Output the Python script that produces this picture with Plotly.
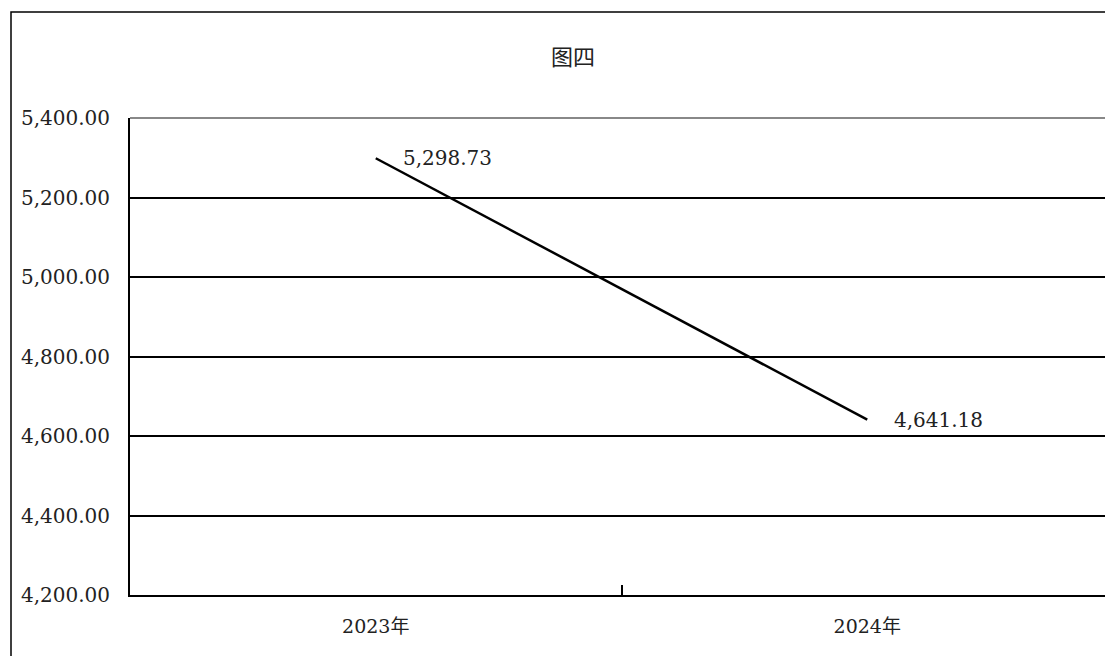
import plotly.graph_objects as go

categories = ["2023年", "2024年"]
values = [5298.73, 4641.18]
value_labels = ["5,298.73", "4,641.18"]
title_text = "图四"
y_ticks = [4200, 4400, 4600, 4800, 5000, 5200, 5400]

FONT = "DejaVu Serif, Noto Sans CJK SC, serif"

fig = go.Figure()
fig.add_trace(go.Scatter(
    x=categories, y=values, mode="lines",
    line=dict(color="black", width=2.5),
    hoverinfo="skip", showlegend=False,
))

for c, v, t in zip(categories, values, value_labels):
    fig.add_annotation(x=c, y=v, text=t, showarrow=False,
                       xanchor="left", yanchor="middle", xshift=25,
                       font=dict(family=FONT, size=20, color="#222"))

PW = 975.0
fig.add_annotation(x=(573 - 130) / PW, y=(595 - 55) / 477, xref="paper", yref="paper",
                   text=title_text, showarrow=False, xanchor="center", yanchor="middle",
                   font=dict(family="Noto Sans CJK SC", size=22, color="#222"))

# outer frame
fig.add_shape(type="rect", xref="paper", yref="paper",
              x0=(11 - 130) / PW, x1=1.05, y0=-0.3, y1=(595 - 12) / 477,
              line=dict(color="black", width=1.5), fillcolor="rgba(0,0,0,0)", layer="below")
# top grid line (lighter)
fig.add_shape(type="line", xref="paper", yref="paper", x0=0, x1=1, y0=1, y1=1,
              line=dict(color="#888", width=2), layer="above")

fig.update_layout(
    width=1097, height=648,
    margin=dict(l=122, r=0, t=110, b=61),
    paper_bgcolor="white", plot_bgcolor="white",
    showlegend=False,
)
fig.update_xaxes(
    type="category", range=[-0.5, -0.5 + PW / 491.5],
    showline=True, linecolor="black", linewidth=2,
    showgrid=False, tickson="boundaries", ticks="inside", ticklen=10,
    tickcolor="black", tickwidth=1.5,
    tickfont=dict(family=FONT, size=19, color="#222"),
    ticklabelstandoff=13,
)
fig.update_yaxes(
    range=[4200, 5400], tickvals=y_ticks, tickformat=",.2f",
    showline=True, linecolor="black", linewidth=2,
    showgrid=True, gridcolor="black", gridwidth=1.5,
    ticks="inside", ticklen=8, tickcolor="black", tickwidth=1.5,
    tickfont=dict(family=FONT, size=20, color="#222"),
    ticklabelstandoff=14, zeroline=False,
)

fig.write_html("out.html")
